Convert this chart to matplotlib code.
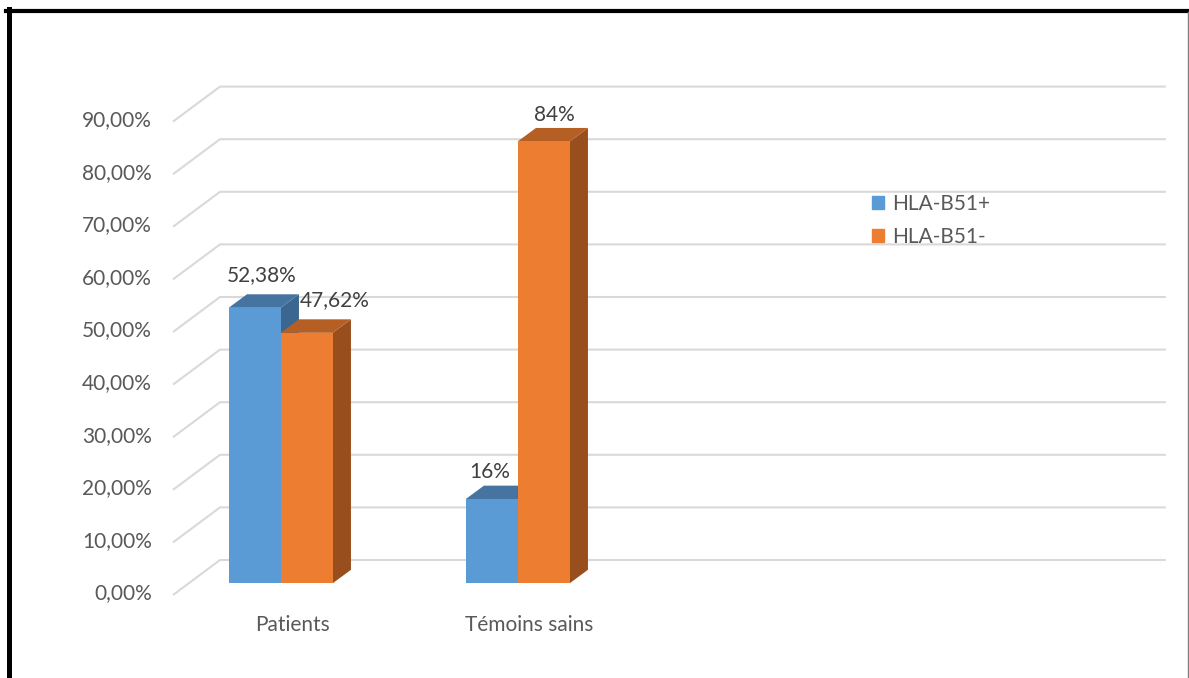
import matplotlib
matplotlib.use("Agg")
import matplotlib.pyplot as plt
from matplotlib.patches import Patch
from matplotlib.lines import Line2D

# data
categories = ["Patients", "Témoins sains"]
series_names = ["HLA-B51+", "HLA-B51-"]
b51_pos = [52.38, 16]
b51_neg = [47.62, 84]
pos_labels = ["52,38%", "16%"]
neg_labels = ["47,62%", "84%"]
y_ticks = [0, 10, 20, 30, 40, 50, 60, 70, 80, 90]

# styling
front_cols = ["#5B9BD5", "#ED7D31"]
top_cols = ["#4674A0", "#B65F24"]
side_cols = ["#3A6690", "#984E1D"]
grid_col = "#D9D9D9"
plt.rcParams["font.family"] = ["Lato", "DejaVu Sans"]
fs = 15

W, H, DPI = 1189, 678, 100
base_px = 583.3      # pixel row of the bar baseline
ypp = 5.26           # pixels per percent
xpp = 237.0          # pixels per category step
x_left, x_right = -0.388, 3.603

fig = plt.figure(figsize=(W / DPI, H / DPI), dpi=DPI)
ax_w = (x_right - x_left) * xpp
ax = fig.add_axes([188.7 / W, (H - base_px) / H, ax_w / W, 100 * ypp / H])
ax.set_xlim(x_left, x_right)
ax.set_ylim(0, 100)
ax.axis("off")


def off(dx, dy):
    # pixel offset (right, up) -> data units
    return dx / xpp, dy / ypp


# back wall gridlines + diagonal on the floor/side
bx, by = off(31.3, 23.3)
fx, fy = off(-15.7, -11.7)
for v in y_ticks:
    ax.plot([x_left + fx, x_left + bx, x_right + bx], [v + fy, v + by, v + by],
            color=grid_col, lw=1.5, zorder=1, clip_on=False, solid_capstyle="butt")
    ax.text(x_left + fx - 21 / xpp, v + fy + 1.5 / ypp,
            f"{v:.2f}".replace(".", ",") + "%",
            ha="right", va="center", fontsize=fs, color="#595959")

# 3d-ish bars
bw = 52 / xpp
dx, dy = off(18.3, 13.5)
label_dx = [[7, -2], [28.5, 11]]
label_dy = [[33, 27], [33, 26]]
for s, (vals, labs) in enumerate([(b51_pos, pos_labels), (b51_neg, neg_labels)]):
    z = 2 + s
    for i, (v, lab) in enumerate(zip(vals, labs)):
        xl = i + (s - 1) * bw
        xr = xl + bw
        ax.bar(xl, v, bw, align="edge", color=front_cols[s], lw=0, zorder=z + 0.2)
        ax.fill([xl, xr, xr + dx, xl + dx], [v, v, v + dy, v + dy],
                color=top_cols[s], lw=0, zorder=z + 0.1, clip_on=False)
        ax.fill([xr, xr + dx, xr + dx, xr], [0, dy, v + dy, v],
                color=side_cols[s], lw=0, zorder=z, clip_on=False)
        ax.text((xl + xr) / 2 + label_dx[s][i] / xpp, v + label_dy[s][i] / ypp, lab,
                ha="center", va="center", fontsize=fs, color="#404040", zorder=10)

for i, c in enumerate(categories):
    ax.text(i + 12 / xpp, -41.7 / ypp, c, ha="center", va="center",
            fontsize=fs, color="#595959")

handles = [Patch(color=front_cols[0]), Patch(color=front_cols[1])]
fig.legend(handles, series_names, loc="upper left",
           bbox_to_anchor=(872 / W, 1 - 194 / H), frameon=False,
           borderpad=0, borderaxespad=0, handlelength=0.57, handleheight=0.57,
           handletextpad=0.4, labelspacing=0.62, fontsize=fs, labelcolor="#595959")

# frame of the original image
fig.add_artist(Line2D([6 / W, 1], [1 - 11 / H] * 2, color="black", lw=3, transform=fig.transFigure))
fig.add_artist(Line2D([8.5 / W] * 2, [0, 1 - 9 / H], color="black", lw=3.6, transform=fig.transFigure))
fig.add_artist(Line2D([1187.5 / W] * 2, [0, 1 - 12 / H], color="#808080", lw=1, transform=fig.transFigure))

fig.savefig("out.png", dpi=DPI, facecolor="white")
